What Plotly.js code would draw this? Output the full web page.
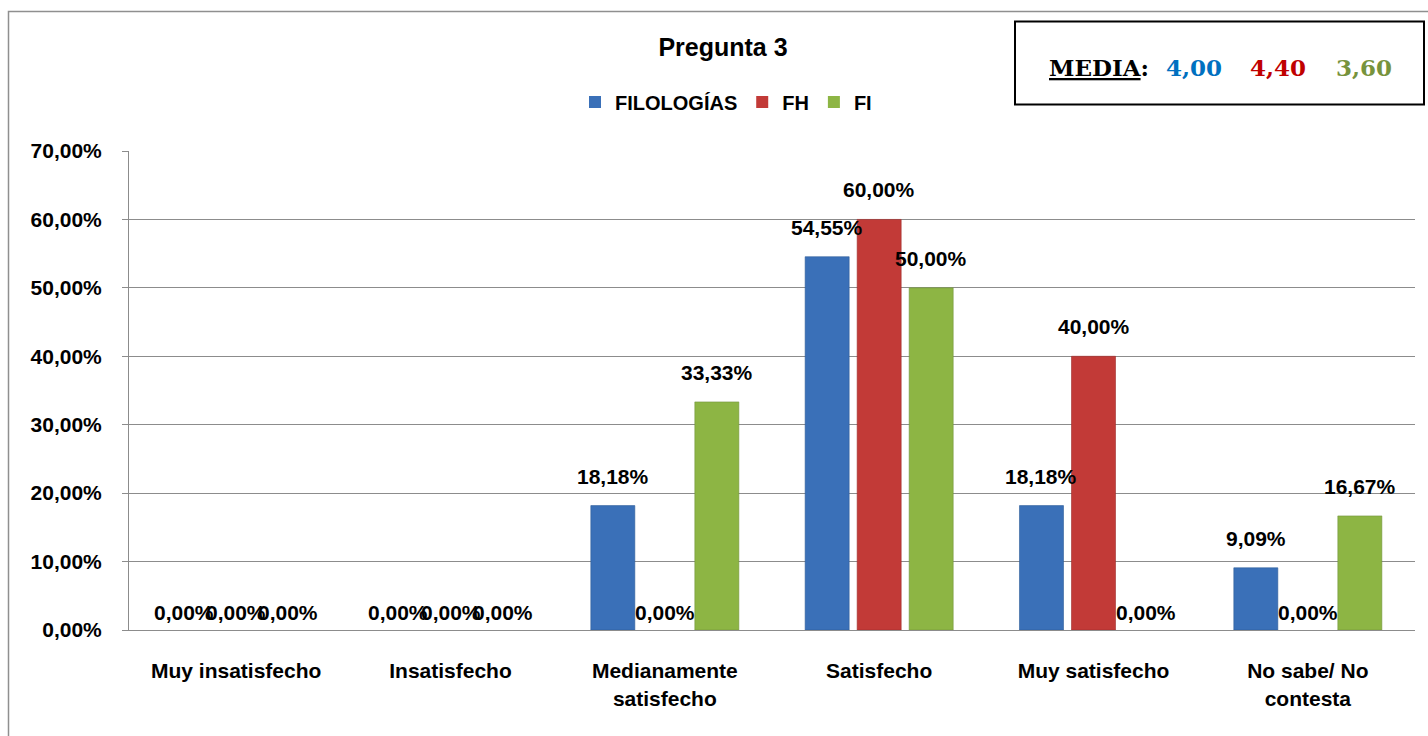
<!DOCTYPE html>
<html>
<head>
<meta charset="utf-8">
<script src="https://cdn.plot.ly/plotly-3.0.1.min.js"></script>
<style>html,body{margin:0;padding:0;background:#fff;}#chart{width:1428px;height:736px;}</style>
</head>
<body>
<div id="chart"></div>
<script>
// ---- data ----
const categories = ['Muy insatisfecho', 'Insatisfecho', 'Medianamente<br>satisfecho', 'Satisfecho', 'Muy satisfecho', 'No sabe/ No<br>contesta'];
const seriesNames = ['FILOLOGÍAS', 'FH', 'FI'];
const filologias = [0, 0, 0.1818, 0.5455, 0.1818, 0.0909];
const fh = [0, 0, 0, 0.60, 0.40, 0];
const fi = [0, 0, 0.3333, 0.50, 0, 0.1667];
const yTickVals = [0, 0.1, 0.2, 0.3, 0.4, 0.5, 0.6, 0.7];
const mediaLabel = 'MEDIA';
const mediaValues = ['4,00', '4,40', '3,60'];
const chartTitle = 'Pregunta 3';

// ---- styles ----
const seriesColors = ['#3A70B8', '#C23A37', '#8DB544'];
const lineColors = ['#2E5C98', '#9E2E2C', '#72933A'];
const mediaColors = ['#0070C0', '#C00000', '#77933C'];
const FONT = '"Liberation Sans", Arial, sans-serif';
const SERIF = '"DejaVu Serif", "Liberation Serif", serif';

const W = 1428, H = 736;
const M = {l: 129, r: 13, t: 151, b: 106};
const plotW = W - M.l - M.r, plotH = H - M.t - M.b;
const px = p => (p - M.l) / plotW;
const py = p => (H - M.b - p) / plotH;
const bargap = 0.272, bargroupgap = 0.154;
const slotPx = plotW / categories.length * (1 - bargap) / seriesNames.length;

const allSeries = [filologias, fh, fi];
const fmt = v => (v * 100).toFixed(2).replace('.', ',') + '%';

const traces = allSeries.map((vals, i) => ({
  type: 'bar',
  name: seriesNames[i],
  x: categories,
  y: vals,
  marker: {color: seriesColors[i], line: {color: lineColors[i], width: vals.map(v => v > 0 ? 0.6 : 0)}},
  hoverinfo: 'skip'
}));

const annotations = [];
allSeries.forEach((vals, i) => {
  vals.forEach((v, j) => {
    annotations.push({
      x: categories[j], y: v, xref: 'x', yref: 'y',
      xshift: (i - (seriesNames.length - 1) / 2) * slotPx,
      yshift: v > 0 ? 16 : 4,
      yanchor: 'bottom', xanchor: 'center',
      showarrow: false,
      text: '<b>' + fmt(v) + '</b>',
      font: {family: FONT, size: 21, color: '#000'}
    });
  });
});

// MEDIA box text
annotations.push({
  xref: 'paper', yref: 'paper', x: px(1047), y: py(67),
  xanchor: 'left', yanchor: 'middle', showarrow: false,
  text: '<b><u>' + mediaLabel + '</u>:</b>',
  font: {family: SERIF, size: 23, color: '#000'}
});
const mediaCenters = [1194, 1278, 1364];
mediaValues.forEach((m, i) => {
  annotations.push({
    xref: 'paper', yref: 'paper', x: px(mediaCenters[i]), y: py(67),
    xanchor: 'center', yanchor: 'middle', showarrow: false,
    text: '<b>' + m + '</b>',
    font: {family: SERIF, size: 23, color: mediaColors[i]}
  });
});

const layout = {
  width: W, height: H,
  margin: M,
  paper_bgcolor: '#fff', plot_bgcolor: '#fff',
  separators: ',.',
  font: {family: FONT, color: '#000'},
  title: {
    text: '<b>' + chartTitle + '</b>',
    font: {family: FONT, size: 25, color: '#000'},
    x: px(723), xref: 'paper', xanchor: 'center',
    y: 1 - 47 / H, yref: 'container', yanchor: 'middle'
  },
  showlegend: true,
  legend: {
    orientation: 'h', x: px(726), xanchor: 'center', y: py(102), yanchor: 'middle',
    font: {family: FONT, size: 20, color: '#000', weight: 'bold'},
    itemclick: false, itemdoubleclick: false
  },
  barmode: 'group', bargap: bargap, bargroupgap: bargroupgap,
  xaxis: {
    type: 'category',
    showgrid: false, zeroline: false,
    showline: true, linecolor: '#8c8c8c', linewidth: 1,
    ticks: '', ticklabelstandoff: 22,
    tickfont: {family: FONT, size: 21, color: '#000', weight: 'bold'},
    automargin: false, fixedrange: true
  },
  yaxis: {
    range: [0, 0.7], tickvals: yTickVals, tickformat: '.2%',
    showgrid: true, gridcolor: '#8c8c8c', gridwidth: 1,
    zeroline: true, zerolinecolor: '#8c8c8c', zerolinewidth: 1,
    showline: true, linecolor: '#8c8c8c', linewidth: 1,
    ticks: 'outside', ticklen: 6, tickcolor: '#8c8c8c',
    ticklabelstandoff: 16,
    tickfont: {family: FONT, size: 21, color: '#000', weight: 'bold'},
    automargin: false, fixedrange: true
  },
  shapes: [
    {type: 'rect', xref: 'paper', yref: 'paper', x0: px(8.5), x1: px(1450), y0: py(760), y1: py(11.5),
     line: {color: '#8f8f8f', width: 1.5}, fillcolor: 'rgba(0,0,0,0)', layer: 'below'},
    {type: 'rect', xref: 'paper', yref: 'paper', x0: px(1015), x1: px(1424), y0: py(104.5), y1: py(21.5),
     line: {color: '#000', width: 2}, fillcolor: '#fff', layer: 'above'}
  ],
  annotations: annotations
};

Plotly.newPlot('chart', traces, layout, {displayModeBar: false, staticPlot: true});
</script>
</body>
</html>
